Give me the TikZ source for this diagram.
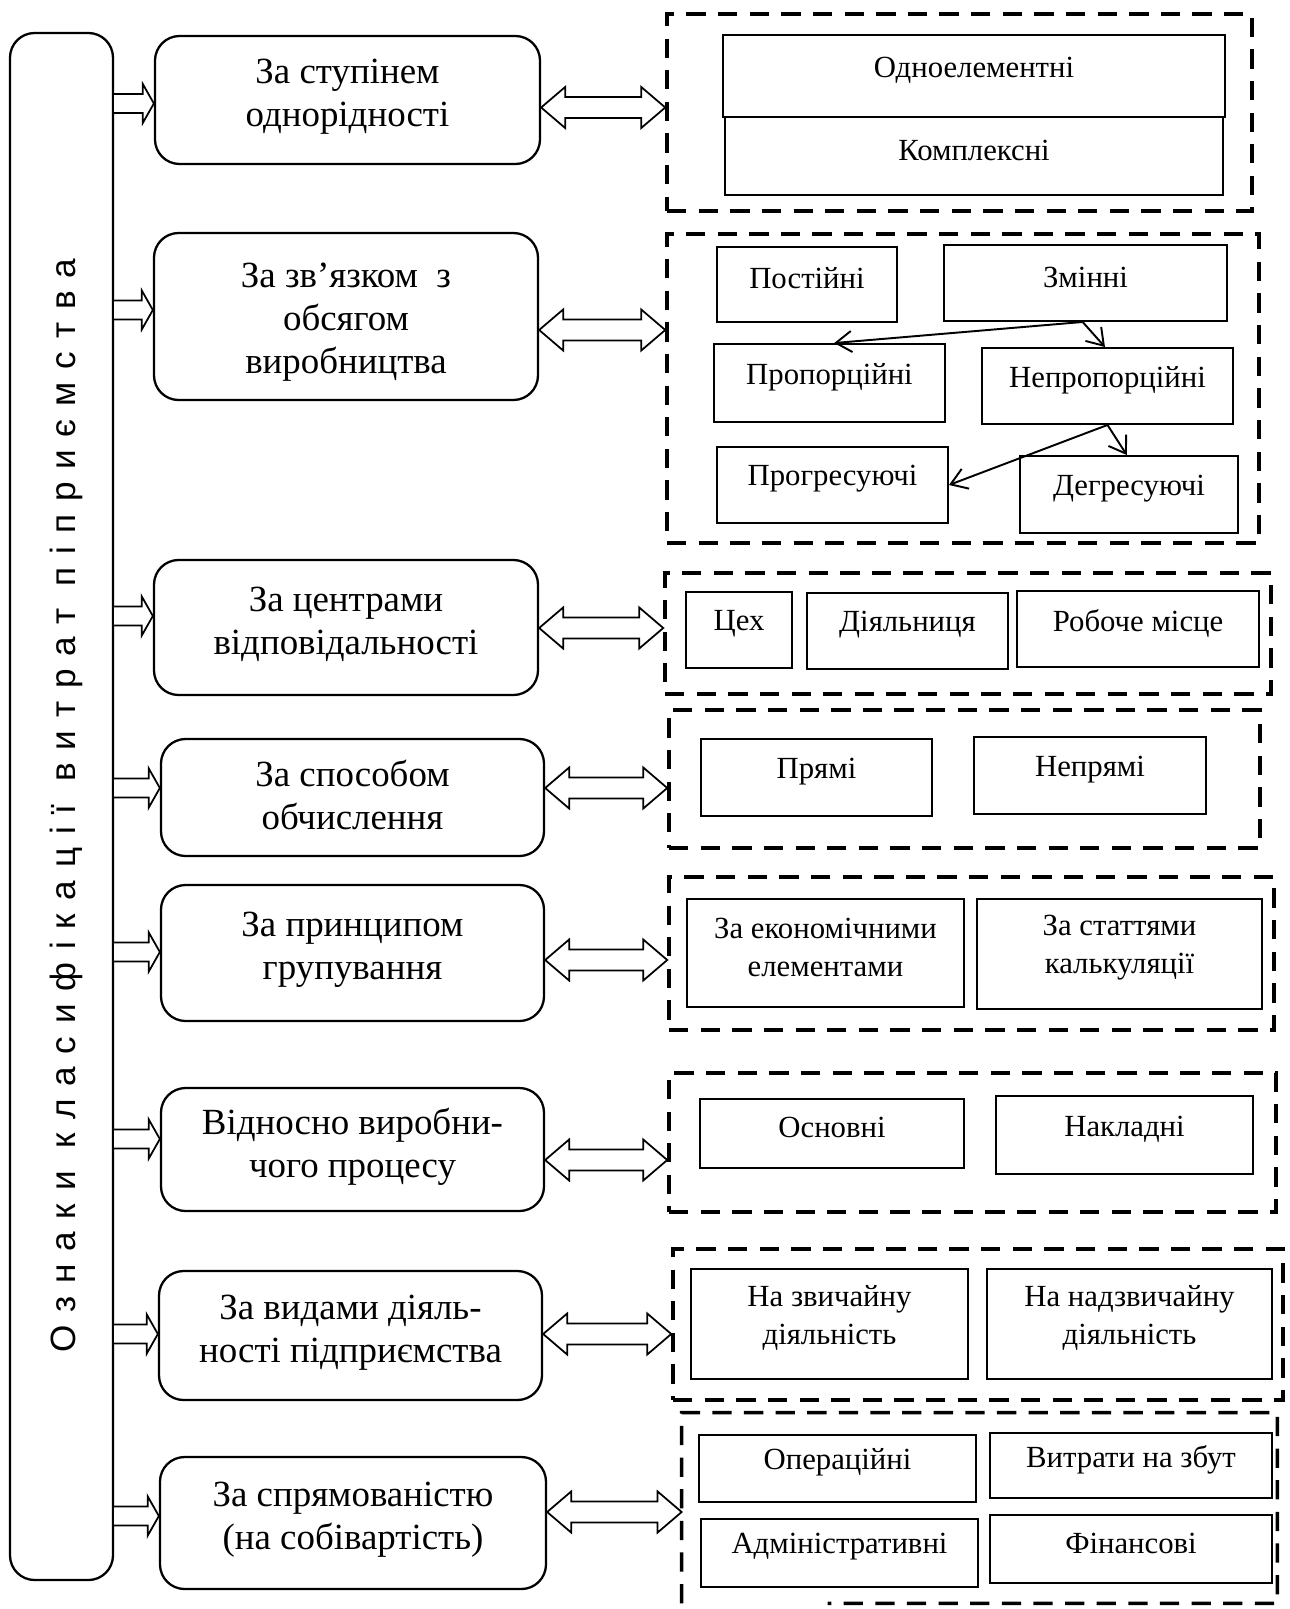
\documentclass[tikz,border=0pt]{standalone}
\usepackage{fontspec}
\setmainfont{Liberation Serif}
\newfontfamily\spacedsans[LetterSpace=36.5]{Liberation Sans}
\usetikzlibrary{arrows.meta,calc,fit}

% hollow one-way arrow from the east side of #1 to the west side of #2 at height #3
\newcommand\feedarrow[3]{%
  \draw[blockarrow] let \p1=(#1.east), \p2=(#2.west), \p3=(0,#3) in
    (\x1,{\y3+5.4pt}) -- ({\x2-6.3pt},{\y3+5.4pt}) -- ({\x2-6.3pt},{\y3+11.1pt})
    -- (\x2,\y3) -- ({\x2-6.3pt},{\y3-11.1pt}) -- ({\x2-6.3pt},{\y3-5.4pt})
    -- (\x1,{\y3-5.4pt});}
% hollow two-way arrow between #1 and #2 at height #3
\newcommand\linkarrow[3]{%
  \draw[blockarrow] let \p1=(#1.east), \p2=(#2.west), \p3=(0,#3) in
    (\x1,\y3) -- ({\x1+13.7pt},{\y3+11.7pt}) -- ({\x1+13.7pt},{\y3+6pt})
    -- ({\x2-13.7pt},{\y3+6pt}) -- ({\x2-13.7pt},{\y3+11.7pt}) -- (\x2,\y3)
    -- ({\x2-13.7pt},{\y3-11.7pt}) -- ({\x2-13.7pt},{\y3-6pt})
    -- ({\x1+13.7pt},{\y3-6pt}) -- ({\x1+13.7pt},{\y3-11.7pt}) -- cycle;}

\begin{document}
\begin{tikzpicture}[x=0.02cm,y=-0.02cm,
  catbox/.style={draw, line width=1.3pt, rounded corners=14pt, inner sep=0pt},
  cattext/.style={align=center, yshift=1.7pt, font=\fontsize{21}{24.5}\selectfont},
  itembox/.style={draw, line width=1.1pt, inner sep=0pt},
  itemtext/.style={align=center, yshift=3.4pt, font=\fontsize{17.5}{21.6}\selectfont},
  groupline/.style={line width=2pt, dash pattern=on 11pt off 7pt},
  groupbox/.style={groupline, draw, inner sep=0pt},
  blockarrow/.style={draw, fill=white, line width=1pt, line join=miter},
  subarrow/.style={-{Straight Barb[length=9pt,width=12pt,line width=1.1pt]}, line width=1.1pt},
]
\useasboundingbox (0,0) rectangle (1289,1609);
\fill[white] (0,0) rectangle (1289,1609);

% side bar with the vertical caption
\node[draw, line width=1.3pt, rounded corners=14pt, inner sep=0pt,
  fit={(10,33) (113,1580)}] (side) {};
\node[rotate=90, anchor=base, font=\spacedsans\fontsize{20}{24}\selectfont]
  (sidelabel) at (75,806) {Ознаки класифікації витрат піприємства};

% classification criteria
\node[catbox, fit={(155,36) (540,164)}, label={[cattext]center:За ступінем\\однорідності}] (m1) {};
\node[catbox, fit={(154,233) (538,400)}, label={[cattext, yshift=-4.7pt]center:За зв’язком\ \ з\\обсягом\\виробництва}] (m2) {};
\node[catbox, fit={(154,560) (538,695)}, label={[cattext]center:За центрами\\відповідальності}] (m3) {};
\node[catbox, fit={(161,739) (544,856)}, label={[cattext]center:За способом\\обчислення}] (m4) {};
\node[catbox, fit={(161,885) (544,1021)}, label={[cattext]center:За принципом\\групування}] (m5) {};
\node[catbox, fit={(161,1088) (544,1211)}, label={[cattext]center:Відносно виробни-\\чого процесу}] (m6) {};
\node[catbox, fit={(159,1271) (542,1400)}, label={[cattext]center:За видами діяль-\\ності підприємства}] (m7) {};
\node[catbox, fit={(160,1457) (546,1589)}, label={[cattext]center:За спрямованістю\\(на собівартість)}] (m8) {};

% dashed groups
\node[groupbox, fit={(667,14) (1252,211)}] (g1) {};
\node[groupbox, fit={(667,234) (1259,543)}] (g2) {};
\node[groupbox, fit={(665,573) (1271,694)}] (g3) {};
\node[groupbox, fit={(669,710) (1260,848)}] (g4) {};
\node[groupbox, fit={(669,877) (1274,1030)}] (g5) {};
\node[groupbox, fit={(669,1073) (1276,1212)}] (g6) {};
\node[groupbox, fit={(673,1249) (1283,1400)}] (g7) {};
\node[inner sep=0pt, fit={(682,1413) (1277,1603)}] (g8) {};
\draw[groupline] (g8.south west) -- (g8.north west) -- (g8.north east) -- (g8.south east)
  -- ($(g8.south west)!0.245!(g8.south east)$);

% group 1
\node[itembox, fit={(723,35) (1225,117)}, label={[itemtext]center:Одноелементні}] (e11) {};
\node[itembox, fit={(725,117) (1223,195)}, label={[itemtext]center:Комплексні}] (e12) {};
% group 2
\node[itembox, fit={(717,247) (897,322)}, label={[itemtext]center:Постійні}] (ps) {};
\node[itembox, fit={(944,245) (1227,321)}, label={[itemtext]center:Змінні}] (zm) {};
\node[itembox, fit={(714,344) (945,422)}, label={[itemtext]center:Пропорційні}] (pr) {};
\node[itembox, fit={(982,348) (1233,424)}, label={[itemtext]center:Непропорційні}] (np) {};
\node[itembox, fit={(717,447) (948,523)}, label={[itemtext]center:Прогресуючі}] (pg) {};
\node[itembox, fit={(1020,456) (1238,533)}, label={[itemtext]center:Дегресуючі}] (dg) {};
\draw[subarrow] ($(zm.south west)!0.49!(zm.south east)$) -- ($(pr.north west)!0.52!(pr.north east)$);
\draw[subarrow] ($(zm.south west)!0.49!(zm.south east)$) -- ($(np.north west)!0.49!(np.north east)$);
\draw[subarrow] ($(np.south west)!0.5!(np.south east)$) -- (pg.east);
\draw[subarrow] ($(np.south west)!0.5!(np.south east)$) -- ($(dg.north west)!0.49!(dg.north east)$);
% group 3
\node[itembox, fit={(686,592) (792,668)}, label={[itemtext]center:Цех}] (e31) {};
\node[itembox, fit={(807,593) (1008,669)}, label={[itemtext]center:Діяльниця}] (e32) {};
\node[itembox, fit={(1017,591) (1259,667)}, label={[itemtext]center:Робоче місце}] (e33) {};
% group 4
\node[itembox, fit={(701,739) (932,816)}, label={[itemtext]center:Прямі}] (e41) {};
\node[itembox, fit={(974,737) (1206,814)}, label={[itemtext]center:Непрямі}] (e42) {};
% group 5
\node[itembox, fit={(687,899) (964,1007)}, label={[itemtext]center:За економічними\\елементами}] (e51) {};
\node[itembox, fit={(977,899) (1262,1009)}, label={[itemtext]center:За статтями\\калькуляції}] (e52) {};
% group 6
\node[itembox, fit={(700,1099) (964,1168)}, label={[itemtext]center:Основні}] (e61) {};
\node[itembox, fit={(996,1096) (1253,1174)}, label={[itemtext]center:Накладні}] (e62) {};
% group 7
\node[itembox, fit={(691,1269) (968,1379)}, label={[itemtext]center:На звичайну\\діяльність}] (e71) {};
\node[itembox, fit={(987,1269) (1272,1379)}, label={[itemtext]center:На надзвичайну\\діяльність}] (e72) {};
% group 8
\node[itembox, fit={(699,1435) (976,1502)}, label={[itemtext]center:Операційні}] (e81) {};
\node[itembox, fit={(990,1433) (1272,1498)}, label={[itemtext]center:Витрати на збут}] (e82) {};
\node[itembox, fit={(701,1519) (978,1587)}, label={[itemtext]center:Адміністративні}] (e83) {};
\node[itembox, fit={(990,1515) (1272,1583)}, label={[itemtext]center:Фінансові}] (e84) {};

% arrows from the side bar to the criteria
\feedarrow{side}{m1}{103.5}
\feedarrow{side}{m2}{310}
\feedarrow{side}{m3}{616}
\feedarrow{side}{m4}{788}
\feedarrow{side}{m5}{952}
\feedarrow{side}{m6}{1139}
\feedarrow{side}{m7}{1334}
\feedarrow{side}{m8}{1516}

% arrows between the criteria and their groups
\linkarrow{m1}{g1}{107.5}
\linkarrow{m2}{g2}{330}
\linkarrow{m3}{g3}{628}
\linkarrow{m4}{g4}{788}
\linkarrow{m5}{g5}{960}
\linkarrow{m6}{g6}{1160}
\linkarrow{m7}{g7}{1334}
\linkarrow{m8}{g8}{1512}
\end{tikzpicture}
\end{document}
